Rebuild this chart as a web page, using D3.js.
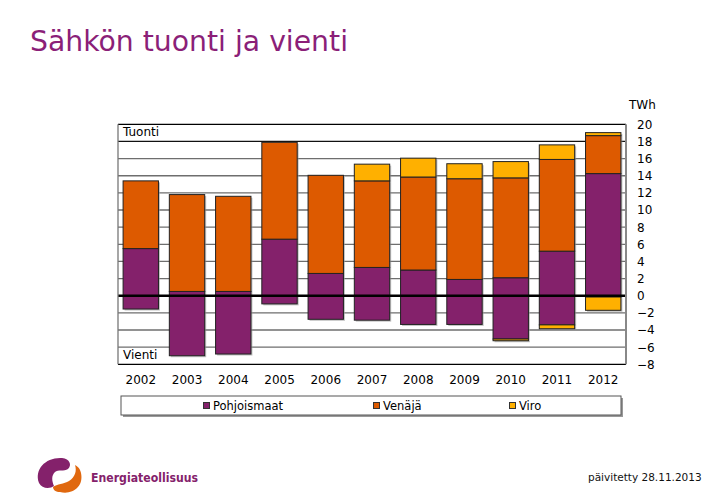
<!DOCTYPE html>
<html><head><meta charset="utf-8">
<script src="https://cdn.jsdelivr.net/npm/d3@7"></script>
<style>body{margin:0;background:#fff}svg{display:block}</style>
</head><body>
<svg id="c" width="726" height="502"></svg>
<script>
const years = ["2002","2003","2004","2005","2006","2007","2008","2009","2010","2011","2012"];
const seriesNames = ["Pohjoismaat","Venäjä","Viro"];
const colors = ["#84216B","#DD5A00","#FFB000"];
// Imports (positive, TWh)
const importPohjoismaat = [5.5,0.5,0.5,6.6,2.6,3.3,3.0,1.9,2.1,5.2,14.25];
const importVenaja      = [7.9,11.3,11.1,11.3,11.45,10.1,10.85,11.75,11.65,10.7,4.43];
const importViro        = [0,0,0,0,0,1.95,2.2,1.75,1.9,1.7,0.35];
// Exports (negative, TWh)
const exportPohjoismaat = [-1.55,-7.0,-6.8,-0.95,-2.75,-2.85,-3.35,-3.35,-5.05,-3.4,-0.15];
const exportVenaja      = [0,0,0,0,0,0,0,0,0,0,0];
const exportViro        = [0,0,0,0,0,0,0,0,-0.2,-0.45,-1.55];
const yTicks = [-8,-6,-4,-2,0,2,4,6,8,10,12,14,16,18,20];

const svg = d3.select("#c");
const font = "'DejaVu Sans', Verdana, sans-serif";
const L=118, R=626, T=124.3, B=364.3;

const x = d3.scaleBand().domain(years).range([L,R]).paddingInner(0.235).paddingOuter(0.11);
const y = d3.scaleLinear().domain([-8,20]).range([B,T]);

// title
svg.append("text").attr("x",30).attr("y",51).attr("font-family",font).attr("font-size",28)
  .attr("fill","#8B1F78").attr("textLength",318).attr("lengthAdjust","spacingAndGlyphs").text("Sähkön tuonti ja vienti");

// plot background
svg.append("rect").attr("x",L).attr("y",T).attr("width",R-L).attr("height",B-T).attr("fill","#fff");

// gridlines
svg.append("g").selectAll("line").data(yTicks.filter(d=>d>-8&&d<20&&d!==0)).join("line")
  .attr("x1",L).attr("x2",R).attr("y1",d=>y(d)).attr("y2",d=>y(d))
  .attr("stroke",d=>d===18?"#111":"#6e6e6e").attr("stroke-width",1.3);

// stacks
const imports=[importPohjoismaat,importVenaja,importViro];
const exportsArr=[exportPohjoismaat,exportVenaja,exportViro];
const gBars = svg.append("g");
function drawStacks(shadow){
  years.forEach((yr,i)=>{
    const off = shadow?1.5:0;
    let acc=0;
    imports.forEach((s,k)=>{
      const v=s[i]; if(v<=0) return;
      const r=gBars.append("rect").attr("x",x(yr)+off).attr("y",y(acc+v)+off).attr("width",x.bandwidth()).attr("height",y(acc)-y(acc+v));
      if(shadow) r.attr("fill","#9a9a9a").attr("opacity",0.6);
      else r.attr("fill",colors[k]).attr("stroke","#222").attr("stroke-width",1);
      acc+=v;
    });
    acc=0;
    exportsArr.forEach((s,k)=>{
      const v=s[i]; if(v>=0) return;
      const r=gBars.append("rect").attr("x",x(yr)+off).attr("y",y(acc)+off).attr("width",x.bandwidth()).attr("height",y(acc+v)-y(acc));
      if(shadow) r.attr("fill","#9a9a9a").attr("opacity",0.6);
      else r.attr("fill",colors[k]).attr("stroke","#222").attr("stroke-width",1);
      acc+=v;
    });
  });
}
drawStacks(true);
drawStacks(false);

// zero line
svg.append("line").attr("x1",L).attr("x2",R).attr("y1",y(0)).attr("y2",y(0)).attr("stroke","#000").attr("stroke-width",2.6);

// frame
svg.append("line").attr("x1",L).attr("x2",R).attr("y1",T).attr("y2",T).attr("stroke","#000").attr("stroke-width",1.3);
svg.append("line").attr("x1",L).attr("x2",R).attr("y1",B).attr("y2",B).attr("stroke","#000").attr("stroke-width",1.3);
svg.append("line").attr("x1",L).attr("x2",L).attr("y1",T).attr("y2",B).attr("stroke","#777").attr("stroke-width",1.3);
svg.append("line").attr("x1",R).attr("x2",R).attr("y1",T).attr("y2",B).attr("stroke","#888").attr("stroke-width",2);

// inner labels
svg.append("text").attr("x",123).attr("y",135.5).attr("font-family",font).attr("font-size",12).attr("fill","#000").text("Tuonti");
svg.append("text").attr("x",123).attr("y",358.5).attr("font-family",font).attr("font-size",12).attr("fill","#000").text("Vienti");

// right axis
const ax = svg.append("g").attr("transform",`translate(${R},0)`)
  .call(d3.axisRight(y).tickValues(yTicks).tickSize(0).tickPadding(11).tickFormat(d3.format("d")));
ax.select(".domain").remove();
ax.selectAll("text").attr("font-family",font).attr("font-size",12).attr("fill","#000");
svg.append("text").attr("x",629).attr("y",109).attr("font-family",font).attr("font-size",12).text("TWh");

// x axis labels
const xa = svg.append("g").attr("transform",`translate(0,${B})`)
  .call(d3.axisBottom(x).tickSize(0).tickPadding(11));
xa.select(".domain").remove();
xa.selectAll("text").attr("font-family",font).attr("font-size",12).attr("fill","#000");

// legend
svg.append("rect").attr("x",123).attr("y",398).attr("width",500).attr("height",19).attr("fill","#999");
svg.append("rect").attr("x",121).attr("y",396).attr("width",500).attr("height",19).attr("fill","#fff").attr("stroke","#555").attr("stroke-width",1);
const legX=[203.5,373.5,509.5];
seriesNames.forEach((n,k)=>{
  svg.append("rect").attr("x",legX[k]).attr("y",402.5).attr("width",6).attr("height",6).attr("fill",colors[k]).attr("stroke","#333").attr("stroke-width",1);
  svg.append("text").attr("x",legX[k]+9.5).attr("y",410).attr("font-family",font).attr("font-size",11.5).text(n);
});

// logo
const lg = svg.append("g").attr("transform","translate(58,477)");
lg.append("path").attr("d","M-19,6 C-24,-8 -12,-20 4,-19 C12,-18 14,-12 10,-8 C6,-5 0,-8 -3,-5 C-7,-1 -6,4 -4,9 C-8,12 -16,12 -19,6 Z").attr("fill","#84216B");
lg.append("path").attr("d","M2,15 C14,18 26,10 23,-4 C22,-9 19,-11 17,-12 C19,-6 17,0 11,4 C6,7 -1,7 -5,10 C-5,13 -2,15 2,15 Z").attr("fill","#E0680F");
svg.append("text").attr("x",91).attr("y",482).attr("font-family","'DejaVu Sans', sans-serif").attr("font-weight","bold").attr("font-size",13)
  .attr("fill","#84216B").attr("textLength",107).attr("lengthAdjust","spacingAndGlyphs").text("Energiateollisuus");

// footer
svg.append("text").attr("x",588).attr("y",481).attr("font-family",font).attr("font-size",10.5).attr("fill","#111").text("päivitetty 28.11.2013");
</script>
</body></html>
